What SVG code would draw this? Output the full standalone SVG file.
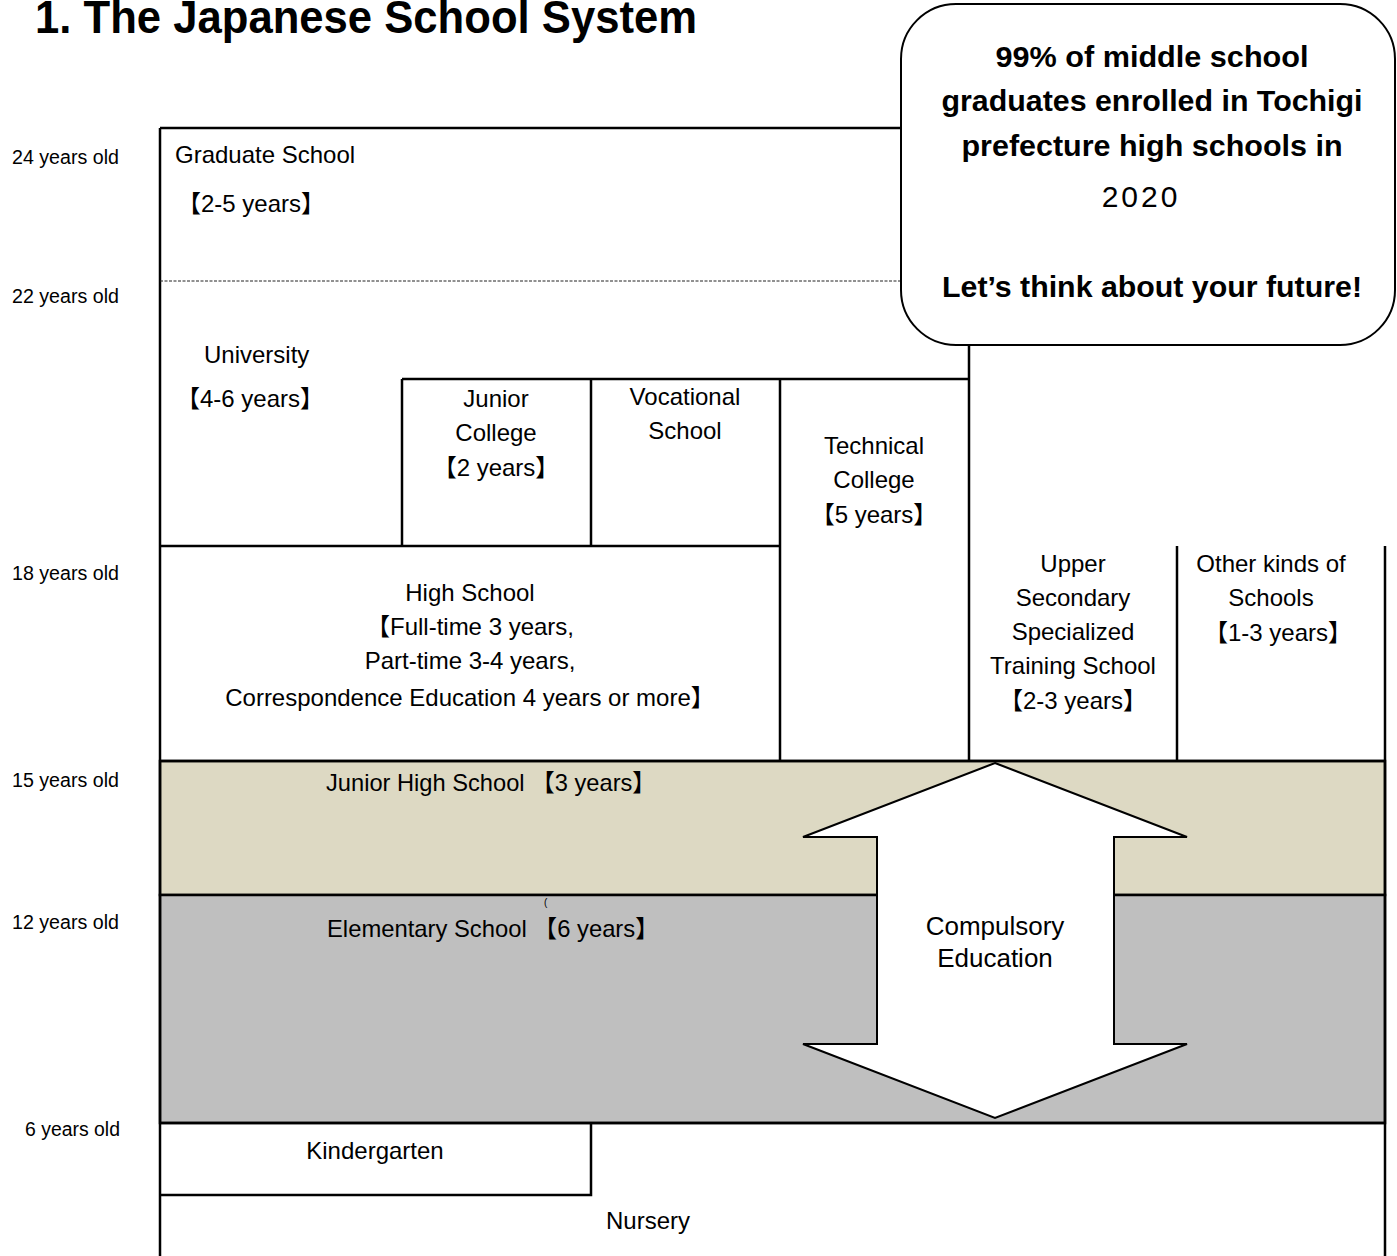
<svg xmlns="http://www.w3.org/2000/svg" width="1397" height="1256" viewBox="0 0 1397 1256">
<style>
text{font-family:"Liberation Sans","Noto Sans CJK JP",sans-serif;fill:#000}
.t{font-size:24px}
.age{font-size:20px}
.c{text-anchor:middle}
.b{font-weight:bold}
.ln{stroke:#000;stroke-width:2.5;fill:none}
.box{stroke:#000;stroke-width:2.5}
</style>
<rect width="1397" height="1256" fill="#fff"/>
<text id="title" x="35" y="33" class="b" font-size="46" textLength="662" lengthAdjust="spacingAndGlyphs">1. The Japanese School System</text>

<g id="ages" class="age">
<text x="12" y="164" textLength="107" lengthAdjust="spacingAndGlyphs">24 years old</text>
<text x="12" y="303" textLength="107" lengthAdjust="spacingAndGlyphs">22 years old</text>
<text x="12" y="580" textLength="107" lengthAdjust="spacingAndGlyphs">18 years old</text>
<text x="12" y="787" textLength="107" lengthAdjust="spacingAndGlyphs">15 years old</text>
<text x="12" y="929" textLength="107" lengthAdjust="spacingAndGlyphs">12 years old</text>
<text x="25" y="1136" textLength="95" lengthAdjust="spacingAndGlyphs">6 years old</text>
</g>

<g id="junior-high">
<rect x="160" y="761" width="1225" height="134" fill="#DDD9C3" class="box"/>
<text x="326" y="791" class="t" textLength="330" lengthAdjust="spacingAndGlyphs">Junior High School 【3 years】</text>
</g>
<g id="elementary">
<rect x="160" y="895" width="1225" height="228" fill="#BFBFBF" class="box"/>
<text x="327" y="937" class="t" textLength="332" lengthAdjust="spacingAndGlyphs">Elementary School 【6 years】</text>
<text x="544" y="906" font-size="10" fill="#444">(</text>
</g>

<g id="frame-lines" class="ln">
<path d="M160 128 V1256"/>
<path d="M160 128 H901"/>
<path d="M969 345 V761"/>
<path d="M402 379 H969"/>
<path d="M402 379 V546"/>
<path d="M591 379 V546"/>
<path d="M160 546 H780"/>
<path d="M780 379 V761"/>
<path d="M1177 546 V761"/>
<path d="M1385 546 V1256"/>
<path d="M160 761 H1385"/>
<path d="M160 1123 H1385"/>
<path d="M160 1195 H591 V1123"/>
</g>
<path id="grad-divider" d="M160 281 H901" stroke="#222" stroke-width="1" stroke-dasharray="3 1.5" fill="none"/>

<g id="graduate-school">
<text x="175" y="163" class="t">Graduate School</text>
<text x="177" y="212" class="t">【2-5 years】</text>
</g>
<g id="university">
<text x="204" y="363" class="t">University</text>
<text x="176" y="407" class="t">【4-6 years】</text>
</g>
<g id="junior-college" class="t c">
<text x="496" y="407">Junior</text>
<text x="496" y="441">College</text>
<text x="496" y="476">【2 years】</text>
</g>
<g id="vocational-school" class="t c">
<text x="685" y="405">Vocational</text>
<text x="685" y="439">School</text>
</g>
<g id="technical-college" class="t c">
<text x="874" y="454">Technical</text>
<text x="874" y="488">College</text>
<text x="874" y="523">【5 years】</text>
</g>
<g id="high-school" class="t c">
<text x="470" y="601">High School</text>
<text x="470" y="635">【Full-time 3 years,</text>
<text x="470" y="669">Part-time 3-4 years,</text>
<text x="470" y="706">Correspondence Education 4 years or more】</text>
</g>
<g id="upper-secondary" class="t c">
<text x="1073" y="572">Upper</text>
<text x="1073" y="606">Secondary</text>
<text x="1073" y="640">Specialized</text>
<text x="1073" y="674">Training School</text>
<text x="1073" y="709">【2-3 years】</text>
</g>
<g id="other-schools" class="t c">
<text x="1271" y="572">Other kinds of</text>
<text x="1271" y="606">Schools</text>
<text x="1278" y="641">【1-3 years】</text>
</g>

<g id="kindergarten">
<text x="375" y="1159" class="t c">Kindergarten</text>
</g>
<g id="nursery">
<text x="606" y="1229" class="t">Nursery</text>
</g>

<g id="compulsory-arrow">
<polygon points="995,763 1187,837 1114,837 1114,1044 1187,1044 995,1118 803,1044 877,1044 877,837 803,837" fill="#fff" stroke="#000" stroke-width="2"/>
<text x="995" y="935" font-size="26" class="c">Compulsory</text>
<text x="995" y="967" font-size="26" class="c">Education</text>
</g>

<g id="callout">
<rect x="901" y="4" width="494" height="341" rx="55" ry="55" fill="#fff" stroke="#000" stroke-width="2"/>
<g class="b c" font-size="30">
<text x="1152" y="67" textLength="313" lengthAdjust="spacingAndGlyphs">99% of middle school</text>
<text x="1152" y="111" textLength="421" lengthAdjust="spacingAndGlyphs">graduates enrolled in Tochigi</text>
<text x="1152" y="156" textLength="381" lengthAdjust="spacingAndGlyphs">prefecture high schools in</text>
<text x="1152" y="297" textLength="420" lengthAdjust="spacingAndGlyphs">Let’s think about your future!</text>
</g>
<text x="1141" y="207" font-size="30" font-family="DejaVu Sans, sans-serif" class="c" letter-spacing="3">2020</text>
</g>
</svg>
